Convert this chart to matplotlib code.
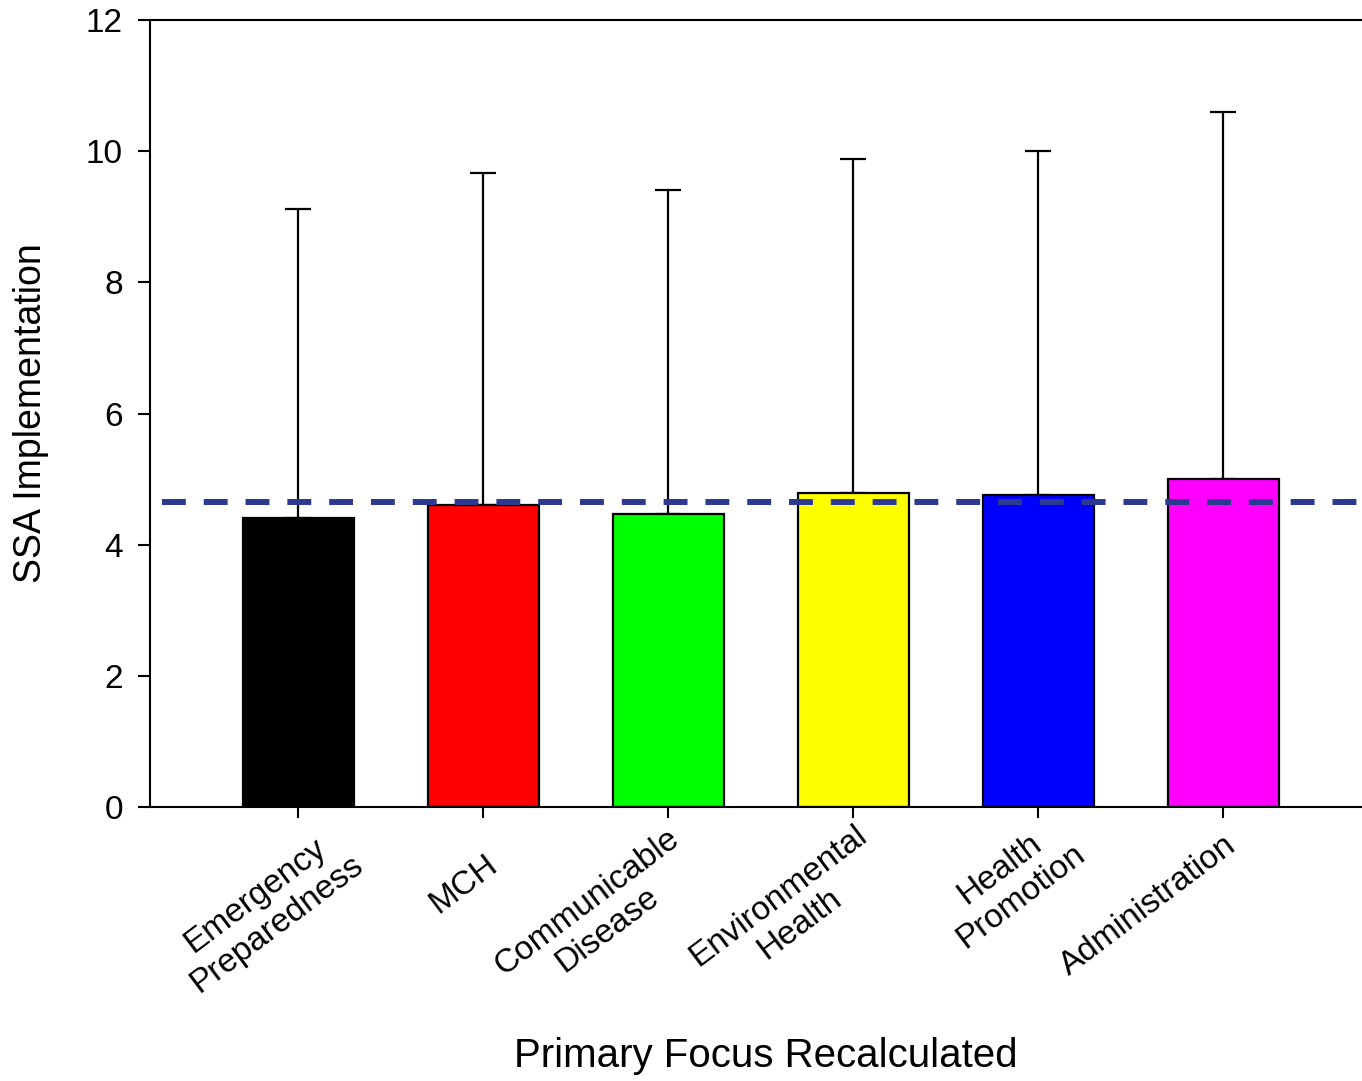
import matplotlib
matplotlib.use("Agg")
import matplotlib.pyplot as plt
import numpy as np

plt.rcParams['font.family'] = ['Liberation Sans', 'DejaVu Sans']

# data
categories = ["Emergency\nPreparedness", "MCH", "Communicable\nDisease",
              "Environmental\nHealth", "Health\nPromotion", "Administration"]
means = [4.41, 4.60, 4.47, 4.79, 4.76, 5.00]
sds = [4.71, 5.07, 4.94, 5.09, 5.24, 5.60]
grand_mean = 4.65
bar_colors = ["#000000", "#FF0000", "#00FF00", "#FFFF00", "#0000FF", "#FF00FF"]

# label placement (pixel offset of each label's anchor from its tick)
label_offsets = [(-32, -103), (-19, -77), (-71, -109), (-64, -103), (-28, -76), (-75, -99)]

W, H = 1362, 1081
fig = plt.figure(figsize=(W / 100, H / 100), dpi=100)
ax = fig.add_axes([150 / W, (H - 807) / H, 1221 / W, 787 / H])

x = np.arange(len(categories))
ax.bar(x, means, width=0.6, color=bar_colors, edgecolor="black", linewidth=1.6, zorder=2)
ax.errorbar(x, means, yerr=[np.zeros(len(sds)), sds], fmt="none", ecolor="black",
            elinewidth=1.6, capsize=9.7, capthick=1.6, zorder=1)

# overall mean, dashed
ax.axhline(grand_mean, color="#2B3990", linewidth=4.3, linestyle=(5, (4, 3)), zorder=3)

ax.set_xlim(-0.8, 5.8)
ax.set_ylim(0, 12)
ax.set_yticks(np.arange(0, 13, 2))
ax.set_xticks(x)
ax.set_xticklabels([])

for sp in ["left", "bottom", "top"]:
    ax.spines[sp].set_linewidth(1.5)
ax.spines["right"].set_visible(False)

ax.tick_params(axis="y", direction="out", length=8.6, width=1.5, labelsize=24, pad=11)
ax.tick_params(axis="x", direction="out", length=8, width=1.5)

for xi, lab, off in zip(x, categories, label_offsets):
    ax.annotate(lab, xy=(xi, 0), xycoords="data", xytext=off, textcoords="offset pixels",
                rotation=37, rotation_mode="anchor", ha="center", va="center",
                multialignment="center", fontsize=24, linespacing=1.15,
                annotation_clip=False)

ax.set_ylabel("SSA Implementation", fontsize=27)
ax.yaxis.set_label_coords(-0.083, 0.5)
ax.set_xlabel("Primary Focus Recalculated", fontsize=29)
ax.xaxis.set_label_coords(0.5045, -0.292)

fig.savefig("out.png", dpi=100)
